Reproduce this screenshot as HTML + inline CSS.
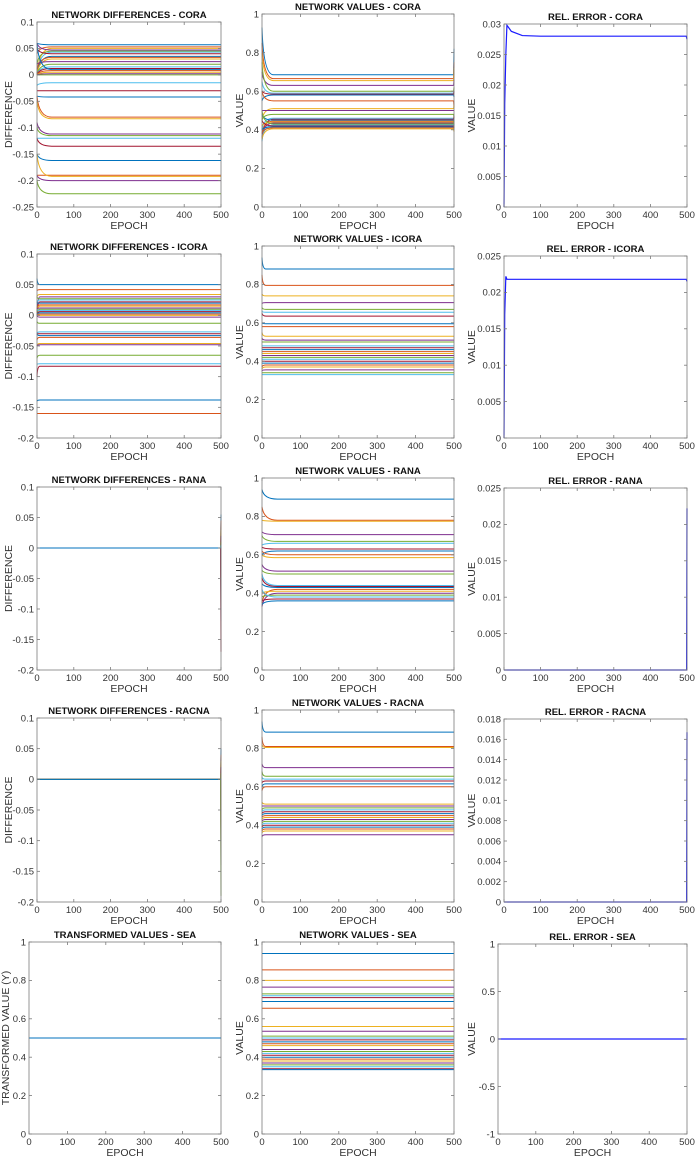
<!DOCTYPE html>
<html><head><meta charset="utf-8">
<style>
body{margin:0;background:#fff;}
svg text{font-family:"Liberation Sans",Arial,sans-serif;}
</style></head>
<body>
<svg id="fig" width="697" height="1161" viewBox="0 0 697 1161" xmlns="http://www.w3.org/2000/svg"></svg>
<script>
// ---- data ----
const xTicks = [0,100,200,300,400,500];
const coraDiffFinal = [0.057,0.053,0.05,0.047,0.045,0.043,0.04,0.035,0.033,0.03,0.025,0.02,0.015,0.012,0.01,0.008,0.005,0.002,0,-0.015,-0.03,-0.042,-0.08,-0.083,-0.112,-0.115,-0.12,-0.135,-0.162,-0.19,-0.192,-0.2,-0.225];
const coraDiffStart = [0.06,0.04,0,0.06,0.02,0,0.05,0,0.01,0,0.02,0,0,0,0.06,0,0,0,0,-0.02,-0.03,-0.04,-0.04,-0.05,-0.09,-0.1,-0.12,-0.12,-0.15,-0.19,-0.15,-0.19,-0.2];
const coraValFinal = [0.685,0.665,0.655,0.63,0.6,0.59,0.585,0.58,0.55,0.51,0.5,0.48,0.46,0.455,0.45,0.445,0.44,0.435,0.43,0.425,0.42,0.415,0.41,0.405];
const coraValStart = [0.93,0.85,0.8,0.7,0.75,0.65,0.6,0.55,0.6,0.45,0.5,0.45,0.4,0.35,0.48,0.38,0.42,0.36,0.5,0.34,0.45,0.4,0.38,0.35];
const coraValEnd = [0.82,0.75,0.72,0.66,0.62,0.6,0.6,0.57,0.52,0.53,0.5,0.46,0.45,0.47,0.42,0.44,0.43,0.41,0.45,0.42,0.41,0.4,0.42,0.39];
const coraErrEpoch = [0,2,5,8,20,50,100,498,500];
const coraErrVal = [0,0.017,0.025,0.0298,0.0288,0.0281,0.028,0.028,0.0275];
const icoraDiffFinal = [0.05,0.042,0.034,0.03,0.027,0.025,0.022,0.02,0.017,0.015,0.012,0.01,0.008,0.006,0.004,0.002,0,-0.003,-0.013,-0.027,-0.03,-0.033,-0.036,-0.046,-0.048,-0.065,-0.079,-0.083,-0.138,-0.16];
const icoraDiffStart = [0.06,0.04,0.03,0,0.03,0.02,0,0.02,0.01,0,0.01,0,0.01,0,0,0,0,0,-0.01,-0.03,-0.03,-0.03,-0.04,-0.05,-0.05,-0.07,-0.08,-0.1,-0.14,-0.16];
const icoraValFinal = [0.88,0.795,0.74,0.705,0.67,0.655,0.635,0.595,0.58,0.53,0.51,0.5,0.48,0.47,0.46,0.45,0.44,0.43,0.42,0.41,0.4,0.39,0.38,0.37,0.355,0.34,0.33];
const icoraValStart = [0.94,0.85,0.75,0.7,0.68,0.66,0.65,0.6,0.58,0.55,0.52,0.5,0.48,0.47,0.46,0.45,0.44,0.43,0.42,0.41,0.4,0.39,0.37,0.36,0.35,0.34,0.33];
const icoraErrEpoch = [0,2,5,8,498,500];
const icoraErrVal = [0,0.017,0.0222,0.0218,0.0218,0.0215];
const ranaDiffEnd = [0.055,0.045,0.03,0.02,0.01,0.005,-0.01,-0.02,-0.04,-0.06,-0.07,-0.1,-0.12,-0.17];
const ranaValFinal = [0.89,0.78,0.775,0.705,0.67,0.66,0.63,0.62,0.6,0.585,0.515,0.5,0.44,0.435,0.43,0.42,0.41,0.4,0.39,0.38,0.37,0.36];
const ranaValStart = [0.94,0.85,0.78,0.72,0.7,0.65,0.64,0.6,0.62,0.6,0.55,0.52,0.5,0.48,0.45,0.35,0.4,0.33,0.38,0.42,0.36,0.34];
const ranaErrEpoch = [0,499,500];
const ranaErrVal = [0,0,0.0222];
const racnaDiffEnd = [0.05,0.04,0.03,0.02,0.01,-0.01,-0.03,-0.05,-0.08,-0.1,-0.14,-0.19];
const racnaValFinal = [0.885,0.81,0.805,0.7,0.655,0.64,0.63,0.615,0.6,0.51,0.5,0.49,0.48,0.47,0.46,0.45,0.44,0.43,0.42,0.41,0.4,0.39,0.38,0.37,0.35];
const racnaValStart = [0.94,0.86,0.82,0.72,0.68,0.65,0.62,0.6,0.58,0.52,0.5,0.48,0.47,0.46,0.45,0.44,0.43,0.42,0.41,0.4,0.39,0.38,0.37,0.36,0.34];
const racnaErrEpoch = [0,499,500];
const racnaErrVal = [0,0,0.0167];
const seaTransformed = [0.5];
const seaValFinal = [0.94,0.855,0.8,0.765,0.73,0.72,0.71,0.69,0.655,0.56,0.535,0.51,0.5,0.49,0.48,0.47,0.46,0.44,0.43,0.42,0.41,0.4,0.39,0.38,0.37,0.36,0.35,0.34,0.335];
const seaErrEpoch = [0,500];
const seaErrVal = [0,0];
const diffTicksA = [-0.25,-0.2,-0.15,-0.1,-0.05,0,0.05,0.1];
const diffTicksB = [-0.2,-0.15,-0.1,-0.05,0,0.05,0.1];
const valTicks = [0,0.2,0.4,0.6,0.8,1];
const errTicks30 = [0,0.005,0.01,0.015,0.02,0.025,0.03];
const errTicks25 = [0,0.005,0.01,0.015,0.02,0.025];
const errTicks18 = [0,0.002,0.004,0.006,0.008,0.01,0.012,0.014,0.016,0.018];
const errTicksSea = [-1,-0.5,0,0.5,1];

const COLORS = ['#0072BD','#D95319','#EDB120','#7E2F8E','#77AC30','#4DBEEE','#A2142F'];
const NS = 'http://www.w3.org/2000/svg';
const fig = document.getElementById('fig');
function mk(tag, attrs, parent){const e=document.createElementNS(NS,tag);for(const k in attrs)e.setAttribute(k,attrs[k]);(parent||fig).appendChild(e);return e;}
function lbl(v){return String(+v.toFixed(4));}

function transientSeries(starts, finals, ends, settle){
  const out=[];
  for(let i=0;i<finals.length;i++){
    const s = starts? starts[i] : finals[i];
    const e = ends? ends[i] : finals[i];
    out.push({ep:[0,settle,499,500], v:[s,finals[i],finals[i],e], color:COLORS[i%7], curve:true});
  }
  return out;
}
function spikeSeries(ends){
  const out=[];
  for(let i=0;i<ends.length;i++) out.push({ep:[0,499,500], v:[0,0,ends[i]], color:COLORS[i%7]});
  out.push({ep:[0,500], v:[0,0], color:COLORS[0]});
  return out;
}

function panel(p){
  const g = mk('g',{});
  
  
  const [ymin,ymax]=p.ylim;
  const xs = e => p.x0 + (e/500)*(p.x1-p.x0);
  const ys = v => p.bot - (v-ymin)/(ymax-ymin)*(p.bot-p.top);
  const sg = mk('g',{},g);
  
  
  p.series.forEach((s)=>{
    let d='';
    s.ep.forEach((e,j)=>{
      const X=xs(e).toFixed(2), Y=ys(s.v[j]).toFixed(2);
      if(j===0) d+='M'+X+' '+Y;
      else if(j===1 && s.curve) d+=' Q'+xs(s.ep[0]+ (e-s.ep[0])*0.12).toFixed(2)+' '+Y+' '+X+' '+Y;
      else d+=' L'+X+' '+Y;
    });
    const path = mk('path',{d:d,fill:'none',stroke:s.color,'stroke-width':p.lw||1},sg);
    
    
  });
  const box = mk('rect',{x:p.x0,y:p.top,width:p.x1-p.x0,height:p.bot-p.top,fill:'none',stroke:'#7a7a7a','stroke-width':0.8},g);
  
  
  xTicks.forEach(t=>{
    const x=xs(t);
    mk('line',{x1:x,x2:x,y1:p.bot,y2:p.bot-3,stroke:'#7a7a7a','stroke-width':0.8},g);
    mk('line',{x1:x,x2:x,y1:p.top,y2:p.top+3,stroke:'#7a7a7a','stroke-width':0.8},g);
    const tx=mk('text',{x:x,y:p.bot+11,'font-size':9.5,fill:'#333','text-anchor':'middle'},g);
    tx.textContent=String(t);
    
    
  });
  p.yticks.forEach(t=>{
    const y=ys(t);
    mk('line',{x1:p.x0,x2:p.x0+3,y1:y,y2:y,stroke:'#7a7a7a','stroke-width':0.8},g);
    mk('line',{x1:p.x1,x2:p.x1-3,y1:y,y2:y,stroke:'#7a7a7a','stroke-width':0.8},g);
    const ty=mk('text',{x:p.x0-3,y:y+3.3,'font-size':9.5,fill:'#333','text-anchor':'end'},g);
    ty.textContent=lbl(t);
    
    
  });
  const ti=mk('text',{x:(p.x0+p.x1)/2,y:p.top-4,'font-size':9.5,'font-weight':'bold',fill:'#111','text-anchor':'middle'},g);
  ti.textContent=p.title;
  
  
  const xl=mk('text',{x:(p.x0+p.x1)/2,y:p.bot+22,'font-size':10.5,fill:'#333','text-anchor':'middle'},g);
  xl.textContent='EPOCH';
  
  
  const yc=(p.top+p.bot)/2;
  const yl=mk('text',{x:p.ylx,y:yc,'font-size':10.5,fill:'#333','text-anchor':'middle',transform:`rotate(-90 ${p.ylx} ${yc})`},g);
  yl.textContent=p.ylabel;
  
  
}
function errSeries(ep,v){return [{ep:ep,v:v,color:'#1a1aff'}];}

const B=[207,438,670,902,1134];
const T1=[22,254,487,718,942], T2=[14,246,478,710,942], T3=[24,256,488,719,944];
const C1=[37,221], C2=[262,454], C3=[504,687];

panel({name:'cora-differences',title:'NETWORK DIFFERENCES - CORA',ylabel:'DIFFERENCE',x0:C1[0],x1:C1[1],top:T1[0],bot:B[0],ylim:[-0.25,0.1],yticks:diffTicksA,ylx:12,series:transientSeries(coraDiffStart,coraDiffFinal,null,40)});
panel({name:'cora-values',title:'NETWORK VALUES - CORA',ylabel:'VALUE',x0:C2[0],x1:C2[1],top:T2[0],bot:B[0],ylim:[0,1],yticks:valTicks,ylx:243,series:transientSeries(coraValStart,coraValFinal,coraValEnd,30)});
panel({name:'cora-rel-error',title:'REL. ERROR - CORA',ylabel:'VALUE',x0:C3[0],x1:C3[1],top:T3[0],bot:B[0],ylim:[0,0.03],yticks:errTicks30,ylx:475,lw:1.2,series:errSeries(coraErrEpoch,coraErrVal)});

panel({name:'icora-differences',title:'NETWORK DIFFERENCES - ICORA',ylabel:'DIFFERENCE',x0:C1[0],x1:C1[1],top:T1[1],bot:B[1],ylim:[-0.2,0.1],yticks:diffTicksB,ylx:12,series:transientSeries(icoraDiffStart,icoraDiffFinal,null,8)});
panel({name:'icora-values',title:'NETWORK VALUES - ICORA',ylabel:'VALUE',x0:C2[0],x1:C2[1],top:T2[1],bot:B[1],ylim:[0,1],yticks:valTicks,ylx:243,series:transientSeries(icoraValStart,icoraValFinal,null,10)});
panel({name:'icora-rel-error',title:'REL. ERROR - ICORA',ylabel:'VALUE',x0:C3[0],x1:C3[1],top:T3[1],bot:B[1],ylim:[0,0.025],yticks:errTicks25,ylx:475,lw:1.2,series:errSeries(icoraErrEpoch,icoraErrVal)});

panel({name:'rana-differences',title:'NETWORK DIFFERENCES - RANA',ylabel:'DIFFERENCE',x0:C1[0],x1:C1[1],top:T1[2],bot:B[2],ylim:[-0.2,0.1],yticks:diffTicksB,ylx:12,series:spikeSeries(ranaDiffEnd)});
panel({name:'rana-values',title:'NETWORK VALUES - RANA',ylabel:'VALUE',x0:C2[0],x1:C2[1],top:T2[2],bot:B[2],ylim:[0,1],yticks:valTicks,ylx:243,series:transientSeries(ranaValStart,ranaValFinal,null,40)});
panel({name:'rana-rel-error',title:'REL. ERROR - RANA',ylabel:'VALUE',x0:C3[0],x1:C3[1],top:T3[2],bot:B[2],ylim:[0,0.025],yticks:errTicks25,ylx:475,lw:1.2,series:errSeries(ranaErrEpoch,ranaErrVal)});

panel({name:'racna-differences',title:'NETWORK DIFFERENCES - RACNA',ylabel:'DIFFERENCE',x0:C1[0],x1:C1[1],top:T1[3],bot:B[3],ylim:[-0.2,0.1],yticks:diffTicksB,ylx:12,series:spikeSeries(racnaDiffEnd)});
panel({name:'racna-values',title:'NETWORK VALUES - RACNA',ylabel:'VALUE',x0:C2[0],x1:C2[1],top:T2[3],bot:B[3],ylim:[0,1],yticks:valTicks,ylx:243,series:transientSeries(racnaValStart,racnaValFinal,null,10)});
panel({name:'racna-rel-error',title:'REL. ERROR - RACNA',ylabel:'VALUE',x0:C3[0],x1:C3[1],top:T3[3],bot:B[3],ylim:[0,0.018],yticks:errTicks18,ylx:475,lw:1.2,series:errSeries(racnaErrEpoch,racnaErrVal)});

panel({name:'sea-transformed',title:'TRANSFORMED VALUES - SEA',ylabel:'TRANSFORMED VALUE (Y)',x0:29,x1:C1[1],top:T1[4],bot:B[4],ylim:[0,1],yticks:valTicks,ylx:9,series:transientSeries(null,seaTransformed,null,10)});
panel({name:'sea-values',title:'NETWORK VALUES - SEA',ylabel:'VALUE',x0:C2[0],x1:C2[1],top:T2[4],bot:B[4],ylim:[0,1],yticks:valTicks,ylx:243,series:transientSeries(null,seaValFinal,null,10)});
panel({name:'sea-rel-error',title:'REL. ERROR - SEA',ylabel:'VALUE',x0:498,x1:C3[1],top:T3[4],bot:B[4],ylim:[-1,1],yticks:errTicksSea,ylx:475,lw:1.2,series:errSeries(seaErrEpoch,seaErrVal)});
</script>
</body></html>
